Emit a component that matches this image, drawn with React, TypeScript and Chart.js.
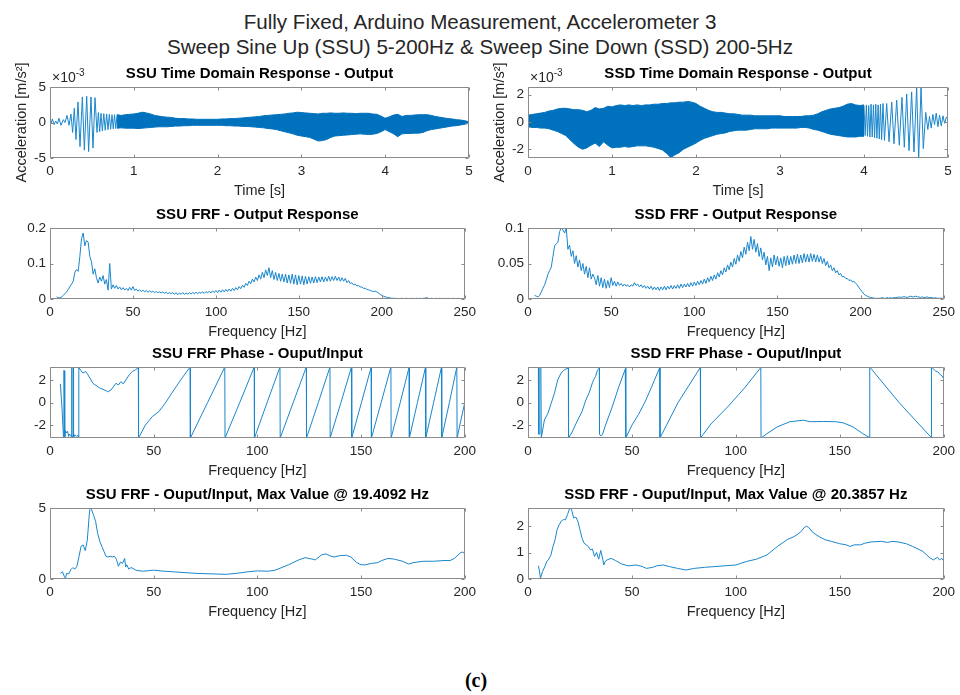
import { useEffect, useRef } from 'react';
import { Chart, registerables } from 'chart.js';

Chart.register(...registerables);

const LINE = '#0072BD';
const THIN_LINE = '#1a86cc';
const INK = '#262626';
const BOX = '#8a8a8a';
const FONT = '"Liberation Sans", Arial, Helvetica, sans-serif';

Chart.defaults.font.family = FONT;
Chart.defaults.color = INK;

// ---------- SSU time response (values in 10^-3 m/s^2) ----------
// resolved low-frequency cycles at the start of the up-sweep: [t (s), a]
const ssuStartPeaks: [number, number][] = [
  [0, 0.5], [0.012, -0.2], [0.028, 0.5], [0.048, -0.3], [0.068, 0.2], [0.088, -0.2],
  [0.107, 0.6], [0.131, -0.4], [0.159, 0.4], [0.179, 0.0], [0.203, 1.0], [0.227, -0.4],
  [0.25, 1.2], [0.27, -1.4], [0.29, 2.0], [0.31, -2.4], [0.334, 2.9], [0.358, -3.4],
  [0.386, 3.6], [0.41, -3.9], [0.438, 3.7], [0.461, -4.1], [0.489, 3.6], [0.513, -3.6],
  [0.537, 3.5], [0.561, -1.4], [0.577, 1.4], [0.593, -1.3], [0.609, 1.3], [0.625, -1.2],
  [0.642, 1.25], [0.659, -1.1], [0.676, 1.2], [0.692, -1.0], [0.708, 1.15], [0.724, -0.95],
  [0.74, 1.1], [0.755, -0.9], [0.77, 1.1], [0.785, -0.85], [0.8, 1.1],
];
// envelope of the dense part, sampled every 50 ms from 0.80 s
const ssuEnvStart = 0.8;
const ssuEnvUpper = [
  1.1, 1.0, 1.1, 1.15, 1.2, 1.3, 1.45, 1.35, 1.2, 1.0, 0.9, 0.8, 0.75, 0.7,
  0.6, 0.55, 0.55, 0.5, 0.5, 0.45, 0.45, 0.45, 0.45, 0.45, 0.45, 0.5, 0.5, 0.55, 0.55, 0.6, 0.65,
  0.7, 0.75, 0.8, 0.85, 0.95, 1.0, 1.05, 1.1, 1.15, 1.2, 1.3, 1.35, 1.45, 1.4, 1.35, 1.3, 1.25,
  1.2, 1.3, 1.3, 1.35, 1.3, 1.3, 1.35, 1.3, 1.3, 1.25, 1.3, 1.3, 1.3, 1.2, 1.15, 0.9, 0.6, 0.8,
  1.05, 1.15, 0.85, 1.0, 1.0, 1.05, 1.1, 1.1, 1.1, 1.0, 0.85, 0.75, 0.65, 0.55, 0.5, 0.4, 0.35,
  0.25, 0.1,
];
const ssuEnvLower = [
  -0.8, -0.75, -0.8, -0.8, -0.8, -0.85, -0.8, -0.75, -0.7, -0.65, -0.6,
  -0.6, -0.6, -0.55, -0.5, -0.5, -0.45, -0.45, -0.4, -0.4, -0.4, -0.4, -0.4, -0.4, -0.4, -0.4,
  -0.45, -0.45, -0.5, -0.5, -0.55, -0.55, -0.6, -0.65, -0.7, -0.75, -0.85, -0.9, -1.0, -1.15,
  -1.3, -1.45, -1.6, -1.8, -1.9, -2.0, -2.1, -2.35, -2.6, -2.55, -2.4, -2.1, -1.9, -1.85, -1.8,
  -1.75, -1.7, -1.65, -1.6, -1.65, -1.7, -1.65, -1.55, -1.3, -1.0, -1.3, -1.6, -2.0, -1.6, -1.55,
  -1.55, -1.5, -1.5, -1.4, -1.15, -1.0, -0.9, -0.8, -0.7, -0.6, -0.5, -0.45, -0.35, -0.25, -0.1,
];

// ---------- SSD time response (values in 10^-3 m/s^2) ----------
const ssdEnvStart = 0;
const ssdEnvUpper = [
  0.5, 0.55, 0.6, 0.65, 0.7, 0.8, 0.85, 0.95, 1.0, 1.0, 0.95, 0.9, 0.9, 0.85, 0.75, 0.85, 1.05,
  0.95, 1.0, 1.15, 1.1, 1.2, 1.25, 1.2, 1.25, 1.2, 1.25, 1.2, 1.25, 1.25, 1.3, 1.3, 1.35, 1.35,
  1.4, 1.4, 1.45, 1.45, 1.5, 1.45, 1.35, 1.15, 1.0, 0.85, 0.75, 0.7, 0.7, 0.65, 0.6, 0.6, 0.55,
  0.5, 0.5, 0.5, 0.45, 0.45, 0.45, 0.45, 0.45, 0.45, 0.45, 0.4, 0.4, 0.4, 0.4, 0.4, 0.45, 0.45,
  0.5, 0.6, 0.75, 0.85, 0.95, 1.0, 1.05, 1.15, 1.3, 1.35, 1.25, 1.2, 1.25,
];
const ssdEnvLower = [
  -0.35, -0.4, -0.4, -0.45, -0.45, -0.5, -0.6, -0.7, -0.85, -1.0, -1.3, -1.6, -1.85, -2.0, -1.9,
  -1.7, -1.55, -1.8, -1.45, -1.7, -1.9, -1.85, -1.85, -1.8, -1.85, -1.8, -1.75, -1.75, -1.75,
  -1.8, -1.85, -1.95, -2.05, -2.3, -2.6, -2.4, -2.25, -2.0, -1.85, -1.7, -1.55, -1.35, -1.2,
  -1.1, -1.0, -0.9, -0.85, -0.8, -0.7, -0.65, -0.6, -0.6, -0.6, -0.55, -0.5, -0.5, -0.5, -0.5,
  -0.45, -0.45, -0.45, -0.45, -0.45, -0.45, -0.45, -0.4, -0.4, -0.45, -0.55, -0.6, -0.7, -0.8,
  -0.9, -0.95, -1.0, -1.05, -1.1, -1.1, -1.1, -1.05, -1.05,
];
// resolved low-frequency cycles at the end of the down-sweep: [t (s), a]
const ssdEndPeaks: [number, number][] = [
  [4.0, 1.2], [4.014, -1.0], [4.028, 1.25], [4.042, -1.05], [4.056, 1.2], [4.07, -1.1],
  [4.084, 1.3], [4.098, -1.1], [4.112, 1.25], [4.126, -1.15], [4.14, 1.3], [4.154, -1.2],
  [4.168, 1.25], [4.182, -1.25], [4.196, 1.3], [4.21, -1.3], [4.226, 1.35], [4.244, -1.35],
  [4.27, 1.35], [4.298, -1.45], [4.33, 1.45], [4.357, -1.6], [4.389, 1.6], [4.42, -1.7],
  [4.452, 1.8], [4.48, -1.85], [4.508, 2.05], [4.536, -2.1], [4.567, 2.2], [4.595, -2.2],
  [4.627, 2.55], [4.651, -2.7], [4.679, 2.55], [4.706, -1.95], [4.735, 0.7], [4.76, -0.55],
  [4.78, 0.4], [4.8, -0.45], [4.82, 0.55], [4.84, -0.2], [4.86, 0.65], [4.88, -0.35],
  [4.9, 0.5], [4.92, -0.3], [4.94, 0.45], [4.96, -0.1], [4.98, 0.35], [5.0, 0.2],
];
const ENV_STEP = 0.05;

// ---------- FRF output response, 1 Hz bins starting at 4 Hz ----------
const FRF_START_HZ = 4;
const ssuFrfOut = [
  0.006, 0.004, 0.003, 0.006, 0.010, 0.015, 0.020, 0.027, 0.035, 0.042, 0.050, 0.075, 0.083,
  0.078, 0.120, 0.170, 0.186, 0.150, 0.165, 0.160, 0.120, 0.105, 0.070, 0.085, 0.060, 0.045,
  0.062, 0.050, 0.066, 0.042, 0.055, 0.025, 0.100, 0.028, 0.040, 0.030, 0.038, 0.028, 0.034,
  0.026, 0.032, 0.025, 0.030, 0.024, 0.033, 0.025, 0.035, 0.024, 0.028, 0.022, 0.026, 0.021,
  0.025, 0.020, 0.024, 0.019, 0.023, 0.019, 0.022, 0.018, 0.021, 0.018, 0.020, 0.017, 0.020,
  0.016, 0.019, 0.015, 0.018, 0.015, 0.018, 0.013, 0.018, 0.012, 0.017, 0.013, 0.018, 0.013,
  0.017, 0.014, 0.018, 0.014, 0.018, 0.015, 0.019, 0.015, 0.019, 0.016, 0.020, 0.016, 0.021,
  0.017, 0.022, 0.017, 0.023, 0.018, 0.024, 0.018, 0.025, 0.019, 0.026, 0.020, 0.027, 0.021,
  0.028, 0.022, 0.030, 0.024, 0.032, 0.026, 0.035, 0.029, 0.039, 0.033, 0.044, 0.038, 0.050,
  0.043, 0.056, 0.048, 0.062, 0.052, 0.068, 0.056, 0.075, 0.060, 0.082, 0.066, 0.088, 0.060,
  0.080, 0.055, 0.075, 0.052, 0.072, 0.050, 0.070, 0.048, 0.070, 0.045, 0.068, 0.044, 0.070,
  0.042, 0.068, 0.040, 0.066, 0.042, 0.065, 0.040, 0.064, 0.042, 0.063, 0.044, 0.062, 0.045,
  0.063, 0.046, 0.062, 0.048, 0.063, 0.048, 0.062, 0.050, 0.064, 0.050, 0.063, 0.052, 0.064,
  0.052, 0.062, 0.050, 0.060, 0.050, 0.058, 0.046, 0.052, 0.043, 0.046, 0.040, 0.042, 0.037,
  0.038, 0.034, 0.034, 0.030, 0.030, 0.027, 0.026, 0.024, 0.022, 0.021, 0.022, 0.020, 0.017,
  0.013, 0.010, 0.008, 0.006, 0.005, 0.004, 0.003, 0.002, 0.002, 0.002, 0.001, 0.001, 0.001,
  0.002, 0.001, 0.001, 0.002, 0.001, 0.001, 0.002, 0.001, 0.001, 0.002, 0.001, 0.002, 0.001,
  0.002, 0.002, 0.004, 0.002, 0.001, 0.002, 0.001, 0.001, 0.002, 0.001, 0.002, 0.001, 0.001,
  0.002, 0.001, 0.002, 0.001, 0.001, 0.002, 0.001, 0.001, 0.002, 0.001, 0.001, 0.001, 0.001,
];
const ssdFrfOut = [
  0.005, 0.004, 0.003, 0.005, 0.010, 0.015, 0.020, 0.027, 0.035, 0.040, 0.045, 0.060, 0.075,
  0.078, 0.080, 0.095, 0.100, 0.097, 0.093, 0.100, 0.070, 0.076, 0.060, 0.068, 0.050, 0.061,
  0.045, 0.055, 0.040, 0.050, 0.035, 0.046, 0.030, 0.044, 0.028, 0.035, 0.030, 0.020, 0.033,
  0.018, 0.030, 0.016, 0.028, 0.015, 0.026, 0.016, 0.030, 0.019, 0.025, 0.018, 0.024, 0.019,
  0.022, 0.018, 0.021, 0.018, 0.020, 0.017, 0.020, 0.018, 0.023, 0.019, 0.021, 0.017, 0.020,
  0.016, 0.019, 0.015, 0.018, 0.014, 0.018, 0.013, 0.017, 0.013, 0.017, 0.012, 0.017, 0.013,
  0.018, 0.013, 0.018, 0.014, 0.019, 0.014, 0.019, 0.015, 0.020, 0.015, 0.021, 0.016, 0.021,
  0.017, 0.022, 0.017, 0.023, 0.018, 0.024, 0.019, 0.025, 0.020, 0.026, 0.021, 0.028, 0.022,
  0.030, 0.024, 0.032, 0.026, 0.034, 0.028, 0.037, 0.031, 0.040, 0.034, 0.044, 0.038, 0.048,
  0.041, 0.052, 0.045, 0.057, 0.049, 0.062, 0.053, 0.067, 0.058, 0.073, 0.063, 0.080, 0.068,
  0.088, 0.070, 0.084, 0.066, 0.078, 0.060, 0.072, 0.055, 0.066, 0.048, 0.060, 0.040, 0.058,
  0.045, 0.062, 0.048, 0.060, 0.046, 0.058, 0.044, 0.060, 0.047, 0.061, 0.048, 0.060, 0.049,
  0.062, 0.050, 0.063, 0.050, 0.062, 0.051, 0.064, 0.052, 0.063, 0.052, 0.064, 0.053, 0.063,
  0.052, 0.062, 0.052, 0.060, 0.050, 0.057, 0.047, 0.053, 0.044, 0.048, 0.040, 0.044, 0.037,
  0.040, 0.034, 0.036, 0.031, 0.032, 0.029, 0.029, 0.026, 0.027, 0.024, 0.025, 0.022, 0.020,
  0.016, 0.013, 0.010, 0.007, 0.005, 0.004, 0.003, 0.002, 0.002, 0.001, 0.001, 0.001, 0.001,
  0.001, 0.002, 0.001, 0.001, 0.002, 0.001, 0.002, 0.001, 0.002, 0.002, 0.002, 0.003, 0.002,
  0.003, 0.003, 0.003, 0.002, 0.003, 0.004, 0.003, 0.003, 0.004, 0.003, 0.003, 0.002, 0.003,
  0.002, 0.002, 0.003, 0.002, 0.002, 0.002, 0.001, 0.002, 0.001, 0.001, 0.001, 0.001, 0.001,
];

// ---------- FRF phase, output/input: [f (Hz), phase (rad)] ----------
const ssuPhase: [number, number][] = [
  [5, 1.65], [5.8, -0.5], [6.5, -3.1], [6.7, 2.85], [6.9, 2.8], [7.1, -3.1], [7.5, -2.5],
  [8, -2.7], [8.5, -2.55], [9, -3.0], [9.5, -2.8], [10.3, -3.0], [10.5, 3.14], [10.6, -3.1],
  [11.1, -3.0], [11.3, 3.14], [11.4, -3.14], [12, -2.85], [12.8, -3.0], [13.5, -2.9],
  [13.8, -3.1], [13.9, 3.1], [15, 2.8], [15.9, 2.6], [17.2, 2.75], [18.3, 2.45], [20.7, 1.7],
  [23.8, 1.3], [27, 1.05], [27.8, 0.95], [29.4, 1.1], [31.8, 1.7], [33, 1.55], [34.2, 1.85],
  [35.3, 1.65], [36.6, 2.0], [38.2, 2.45], [39.7, 2.75], [41.3, 2.9], [42.6, 3.05],
  [42.7, -3.14], [46, -2.0], [49.3, -1.25], [52.5, -0.8], [55.6, -0.05], [58.8, 0.85],
  [63.6, 2.15], [67.6, 3.14], [67.7, -3.14], [76, 0.0], [84.3, 3.14], [84.4, -3.14],
  [91.5, 0.0], [98.5, 3.14], [98.6, -3.14], [104.8, 0.05], [110.9, 3.14], [111, -3.14],
  [117.3, 0.0], [123.6, 3.14], [123.7, -3.14], [129.4, 0.0], [135, 3.14], [135.1, -3.14],
  [140.3, 0.0], [145.4, 3.14], [145.5, -3.14], [150.2, 0.0], [154.9, 3.14], [155, -3.14],
  [159.7, 0.0], [164.4, 3.14], [164.5, -3.14], [168.9, 0.0], [173.2, 3.14], [173.3, -3.14],
  [177.2, 0.0], [181.1, 3.14], [181.2, -3.14], [185, 0.0], [188.8, 3.14], [188.9, -3.14],
  [192.6, 0.0], [196.2, 3.14], [196.3, -3.14], [200, 0.0],
];
const ssdPhase: [number, number][] = [
  [5.0, 3.14], [5.1, -2.8], [5.6, -2.8], [5.7, 3.14], [6.2, 3.14], [6.4, -3.14], [7.9, -1.55],
  [9.5, -1.0], [11.1, -0.1], [12.7, 0.8], [14.3, 2.0], [15.9, 2.6], [17.5, 2.9], [19.4, 3.05],
  [19.5, -3.14], [21, -2.7], [23, -1.9], [24.6, -1.3], [26, -0.8], [27.8, 0.2], [29.5, 0.9],
  [31, 1.75], [31.7, 2.05], [32.5, 2.3], [33.3, 2.8], [34.3, 3.05], [34.4, -2.8], [35, -2.95],
  [35.8, -2.85], [37.3, -2.0], [40.5, -0.4], [43.7, 1.4], [46.8, 2.95], [47.0, 3.14],
  [47.1, -3.14], [50, -2.0], [53.2, -1.05], [56.3, 0.05], [59.5, 1.4], [63.4, 3.1],
  [63.5, -3.14], [72.2, 0.0], [82.9, 3.1], [83.0, -3.14], [88, -1.9], [96, -0.4], [104, 1.25],
  [112, 3.1], [112.1, -3.14], [115, -2.75], [120, -2.15], [126, -1.7], [132.5, -1.57],
  [135.7, -1.7], [142, -1.68], [148, -1.7], [151.6, -1.8], [156.3, -2.15], [161, -2.75],
  [164.3, -3.1], [164.4, 3.14], [178.5, 0.0], [194.0, -3.1], [194.1, 3.14], [196, 2.8],
  [197.2, 2.7], [198.4, 2.45], [199.2, 2.35], [200, 2.1],
];

// ---------- FRF magnitude, output/input: [f (Hz), |H|] ----------
const ssuGain: [number, number][] = [
  [5, 0.4], [6, 0.5], [7, 0.15], [7.5, 0.05], [8, 0.4], [9, 0.35], [10, 0.65], [11, 0.8],
  [12, 0.7], [13, 0.9], [14, 1.6], [15, 2.3], [16, 2.4], [17, 2.0], [18, 2.75], [19, 4.65],
  [19.4, 5.0], [20, 4.9], [21, 4.5], [22, 4.05], [23, 3.2], [24, 2.65], [25, 2.3], [26, 1.95],
  [27, 1.6], [28, 1.55], [29, 1.6], [30, 1.55], [31, 1.6], [32, 1.4], [33, 0.9], [34, 1.2],
  [35, 1.1], [36, 1.45], [36.5, 0.85], [37, 1.0], [38, 0.7], [39, 0.8], [40, 0.75],
  [41, 0.65], [42, 0.6], [45, 0.55], [50, 0.62], [55, 0.55], [60, 0.5], [70, 0.4], [80, 0.35],
  [85, 0.33], [90, 0.4], [95, 0.5], [100, 0.57], [105, 0.55], [108, 0.6], [110, 0.7],
  [115, 1.0], [120, 1.35], [123, 1.5], [125, 1.45], [128, 1.35], [131, 1.7], [133, 1.77],
  [135, 1.63], [137, 1.55], [140, 1.65], [143, 1.67], [145, 1.55], [148, 1.15], [150, 1.0],
  [152, 1.0], [155, 1.1], [158, 1.15], [160, 1.3], [163, 1.45], [166, 1.4], [170, 1.25],
  [173, 1.05], [175, 1.15], [180, 1.25], [185, 1.25], [190, 1.3], [193, 1.3], [195, 1.45],
  [198, 1.85], [199, 1.9], [200, 1.8],
];
const ssdGain: [number, number][] = [
  [5, 0.5], [5.5, 0.3], [6, 0.03], [7, 0.28], [8, 0.45], [9, 0.65], [10, 0.75], [11, 0.9],
  [12, 1.22], [13, 1.48], [14, 1.86], [15, 2.05], [16, 2.18], [17, 2.24], [18, 2.24],
  [19, 2.43], [20, 2.65], [20.4, 2.68], [21, 2.6], [22, 2.3], [23, 2.34], [24, 2.18],
  [25, 1.86], [26, 1.54], [27, 1.35], [28, 1.29], [29, 1.23], [30, 1.1], [31, 1.13],
  [32, 0.85], [33, 1.0], [34, 0.75], [35, 1.08], [36, 0.72], [36.5, 0.53], [37, 0.65],
  [38, 0.72], [40, 0.78], [42, 0.7], [45, 0.57], [48, 0.5], [50, 0.51], [52, 0.53], [55, 0.47],
  [57, 0.4], [60, 0.44], [62, 0.5], [65, 0.53], [68, 0.47], [72, 0.4], [76, 0.34], [80, 0.4],
  [85, 0.44], [90, 0.47], [95, 0.5], [100, 0.53], [105, 0.66], [110, 0.75], [115, 0.91],
  [120, 1.23], [125, 1.5], [128, 1.6], [131, 1.76], [133, 1.95], [134, 1.99], [135, 1.95],
  [137, 1.76], [140, 1.6], [143, 1.48], [146, 1.42], [150, 1.33], [153, 1.29], [155, 1.23],
  [157, 1.29], [160, 1.29], [162, 1.35], [165, 1.4], [170, 1.42], [173, 1.38], [175, 1.42],
  [178, 1.4], [182, 1.33], [185, 1.23], [190, 1.04], [193, 0.82], [195, 0.72], [197, 0.82],
  [198, 0.72], [199, 0.78], [200, 0.68],
];

// ---------- axis ticks ----------
const timeTicks = [0, 1, 2, 3, 4, 5];
const frf250Ticks = [0, 50, 100, 150, 200, 250];
const frf200Ticks = [0, 50, 100, 150, 200];
const ssuTimeYTicks = [-5, 0, 5];
const ssdTimeYTicks = [-2, 0, 2];
const ssuFrfYTicks = [0, 0.1, 0.2];
const ssdFrfYTicks = [0, 0.05, 0.1];
const phaseYTicks = [-2, 0, 2];
const ssuGainYTicks = [0, 5];
const ssdGainYTicks = [0, 1, 2];

// ---------- layout ----------
const ROW_TOP = [87, 228, 367, 508];
const PLOT_H = 71;
const COL_LEFT = [50, 528];
const PLOT_W = [419, 420];
const Y_AXIS_W = 50;
const X_AXIS_H = 46;
const TITLE_H = 30;
const RIGHT_PAD = 12;
const TICK_LEN = 3;

type Pt = { x: number; y: number };
const fromPairs = (pairs: [number, number][]): Pt[] => pairs.map(([x, y]) => ({ x, y }));
const fromBins = (start: number, step: number, values: number[]): Pt[] =>
  values.map((y, i) => ({ x: +(start + i * step).toFixed(4), y }));

type Series = { pts: Pt[]; fillPrev?: boolean; dense?: boolean };
type PanelSpec = {
  key: string;
  col: number;
  row: number;
  title: string;
  xLabel: string;
  yLabel?: string;
  exponent?: string;
  xRange: [number, number];
  xTicks: number[];
  yRange: [number, number];
  yTicks: number[];
  series: Series[];
};

const panels: PanelSpec[] = [
  {
    key: 'ssu-time', col: 0, row: 0,
    title: 'SSU Time Domain Response - Output', xLabel: 'Time [s]',
    yLabel: 'Acceleration [m/s²]', exponent: '-3',
    xRange: [0, 5], xTicks: timeTicks, yRange: [-5, 5], yTicks: ssuTimeYTicks,
    series: [
      { pts: fromPairs(ssuStartPeaks) },
      { pts: fromBins(ssuEnvStart, ENV_STEP, ssuEnvUpper), dense: true },
      { pts: fromBins(ssuEnvStart, ENV_STEP, ssuEnvLower), fillPrev: true, dense: true },
    ],
  },
  {
    key: 'ssd-time', col: 1, row: 0,
    title: 'SSD Time Domain Response - Output', xLabel: 'Time [s]',
    yLabel: 'Acceleration [m/s²]', exponent: '-3',
    xRange: [0, 5], xTicks: timeTicks, yRange: [-2.64, 2.56], yTicks: ssdTimeYTicks,
    series: [
      { pts: fromBins(ssdEnvStart, ENV_STEP, ssdEnvUpper), dense: true },
      { pts: fromBins(ssdEnvStart, ENV_STEP, ssdEnvLower), fillPrev: true, dense: true },
      { pts: fromPairs(ssdEndPeaks) },
    ],
  },
  {
    key: 'ssu-frf', col: 0, row: 1,
    title: 'SSU FRF - Output Response', xLabel: 'Frequency [Hz]',
    xRange: [0, 250], xTicks: frf250Ticks, yRange: [0, 0.2], yTicks: ssuFrfYTicks,
    series: [{ pts: fromBins(FRF_START_HZ, 1, ssuFrfOut) }],
  },
  {
    key: 'ssd-frf', col: 1, row: 1,
    title: 'SSD FRF - Output Response', xLabel: 'Frequency [Hz]',
    xRange: [0, 250], xTicks: frf250Ticks, yRange: [0, 0.1], yTicks: ssdFrfYTicks,
    series: [{ pts: fromBins(FRF_START_HZ, 1, ssdFrfOut) }],
  },
  {
    key: 'ssu-phase', col: 0, row: 2,
    title: 'SSU FRF Phase - Ouput/Input', xLabel: 'Frequency [Hz]',
    xRange: [0, 200], xTicks: frf200Ticks, yRange: [-Math.PI, Math.PI], yTicks: phaseYTicks,
    series: [{ pts: fromPairs(ssuPhase) }],
  },
  {
    key: 'ssd-phase', col: 1, row: 2,
    title: 'SSD FRF Phase - Ouput/Input', xLabel: 'Frequency [Hz]',
    xRange: [0, 200], xTicks: frf200Ticks, yRange: [-Math.PI, Math.PI], yTicks: phaseYTicks,
    series: [{ pts: fromPairs(ssdPhase) }],
  },
  {
    key: 'ssu-gain', col: 0, row: 3,
    title: 'SSU FRF - Ouput/Input, Max Value @ 19.4092 Hz', xLabel: 'Frequency [Hz]',
    xRange: [0, 200], xTicks: frf200Ticks, yRange: [0, 5], yTicks: ssuGainYTicks,
    series: [{ pts: fromPairs(ssuGain) }],
  },
  {
    key: 'ssd-gain', col: 1, row: 3,
    title: 'SSD FRF - Ouput/Input, Max Value @ 20.3857 Hz', xLabel: 'Frequency [Hz]',
    xRange: [0, 200], xTicks: frf200Ticks, yRange: [0, 2.68], yTicks: ssdGainYTicks,
    series: [{ pts: fromPairs(ssdGain) }],
  },
];

// Box around the axes with inward tick marks on all four sides, plus the
// optional "×10^n" multiplier above the top-left corner.
const matlabAxes = {
  id: 'matlabAxes',
  afterDraw(chart: any, _args: unknown, opts: { exponent?: string }) {
    const { ctx, chartArea: a } = chart;
    const xs = chart.scales.x;
    const ys = chart.scales.y;
    const l = Math.round(a.left) + 0.5;
    const r = Math.round(a.right) - 0.5;
    const t = Math.round(a.top) + 0.5;
    const b = Math.round(a.bottom) - 0.5;
    ctx.save();
    ctx.strokeStyle = BOX;
    ctx.lineWidth = 1;
    ctx.beginPath();
    ctx.rect(l, t, r - l, b - t);
    for (const tk of xs.ticks) {
      const px = Math.round(xs.getPixelForValue(tk.value)) + 0.5;
      ctx.moveTo(px, b);
      ctx.lineTo(px, b - TICK_LEN);
      ctx.moveTo(px, t);
      ctx.lineTo(px, t + TICK_LEN);
    }
    for (const tk of ys.ticks) {
      const py = Math.round(ys.getPixelForValue(tk.value)) + 0.5;
      ctx.moveTo(l, py);
      ctx.lineTo(l + TICK_LEN, py);
      ctx.moveTo(r, py);
      ctx.lineTo(r - TICK_LEN, py);
    }
    ctx.stroke();
    if (opts && opts.exponent) {
      ctx.fillStyle = INK;
      ctx.textBaseline = 'alphabetic';
      ctx.textAlign = 'left';
      ctx.font = `14px ${FONT}`;
      const base = a.top - 5;
      ctx.fillText('×10', a.left + 2, base);
      const w = ctx.measureText('×10').width;
      ctx.font = `10px ${FONT}`;
      ctx.fillText(opts.exponent, a.left + 2 + w, base - 6);
    }
    ctx.restore();
  },
};

function buildConfig(p: PanelSpec): any {
  const datasets = p.series.map((s) => ({
    data: s.pts,
    borderColor: s.dense ? LINE : THIN_LINE,
    backgroundColor: LINE,
    borderWidth: 1,
    pointRadius: 0,
    pointHoverRadius: 0,
    tension: 0,
    fill: s.fillPrev ? '-1' : false,
  }));
  const tickFont = { size: 13.5, family: FONT };
  const labelFont = { size: 14.5, family: FONT };
  return {
    type: 'line',
    data: { datasets },
    plugins: [matlabAxes],
    options: {
      responsive: false,
      maintainAspectRatio: false,
      animation: false,
      events: [],
      layout: { padding: { left: 0, right: RIGHT_PAD, top: 0, bottom: 0 } },
      plugins: {
        legend: { display: false },
        tooltip: { enabled: false },
        title: {
          display: true,
          fullSize: false,
          text: p.title,
          color: '#000',
          font: { size: 15, weight: 'bold', family: FONT, lineHeight: 1.2 },
          padding: { top: 8, bottom: 4 },
        },
        matlabAxes: { exponent: p.exponent },
      },
      scales: {
        x: {
          type: 'linear',
          min: p.xRange[0],
          max: p.xRange[1],
          grid: { display: false, drawTicks: false },
          border: { display: false },
          ticks: {
            padding: 5,
            maxRotation: 0,
            autoSkip: false,
            color: INK,
            font: tickFont,
            callback: (v: number) => String(v),
          },
          afterBuildTicks: (s: any) => {
            s.ticks = p.xTicks.map((value) => ({ value }));
          },
          afterFit: (s: any) => {
            s.height = X_AXIS_H;
          },
          title: {
            display: true,
            text: p.xLabel,
            color: INK,
            font: labelFont,
            padding: { top: 0, bottom: 4.5 },
          },
        },
        y: {
          type: 'linear',
          min: p.yRange[0],
          max: p.yRange[1],
          grid: { display: false, drawTicks: false },
          border: { display: false },
          ticks: {
            padding: 4,
            autoSkip: false,
            color: INK,
            font: tickFont,
            callback: (v: number) => String(v),
          },
          afterBuildTicks: (s: any) => {
            s.ticks = p.yTicks.map((value) => ({ value }));
          },
          afterFit: (s: any) => {
            s.width = Y_AXIS_W;
          },
          title: {
            display: !!p.yLabel,
            text: p.yLabel || '',
            color: INK,
            font: labelFont,
            padding: { top: 13, bottom: 0 },
          },
        },
      },
    },
  };
}

function Panel({ spec }: { spec: PanelSpec }) {
  const ref = useRef<HTMLCanvasElement>(null);
  const left = COL_LEFT[spec.col] - Y_AXIS_W;
  const top = ROW_TOP[spec.row] - TITLE_H;
  const width = Y_AXIS_W + PLOT_W[spec.col] + RIGHT_PAD;
  const height = TITLE_H + PLOT_H + X_AXIS_H;

  useEffect(() => {
    if (!ref.current) return;
    const chart = new Chart(ref.current, buildConfig(spec));
    return () => chart.destroy();
  }, [spec]);

  return (
    <canvas
      ref={ref}
      width={width}
      height={height}
      style={{ position: 'absolute', left, top, width, height }}
    />
  );
}

export default function App() {
  return (
    <div
      style={{
        position: 'absolute',
        left: 0,
        top: 0,
        width: 960,
        height: 695,
        background: '#fff',
        overflow: 'hidden',
      }}
    >
      <div
        style={{
          position: 'absolute',
          left: 0,
          top: 8.5,
          width: 960,
          textAlign: 'center',
          fontFamily: FONT,
          fontSize: 20.6,
          lineHeight: '25px',
          color: INK,
        }}
      >
        <div>Fully Fixed, Arduino Measurement, Accelerometer 3</div>
        <div>Sweep Sine Up (SSU) 5-200Hz &amp; Sweep Sine Down (SSD) 200-5Hz</div>
      </div>
      {panels.map((p) => (
        <Panel key={p.key} spec={p} />
      ))}
      <div
        style={{
          position: 'absolute',
          left: 426,
          top: 667,
          width: 100,
          textAlign: 'center',
          fontFamily: '"Liberation Serif", "DejaVu Serif", serif',
          fontWeight: 'bold',
          fontSize: 20,
          lineHeight: '26px',
          color: '#000',
        }}
      >
        (c)
      </div>
    </div>
  );
}
